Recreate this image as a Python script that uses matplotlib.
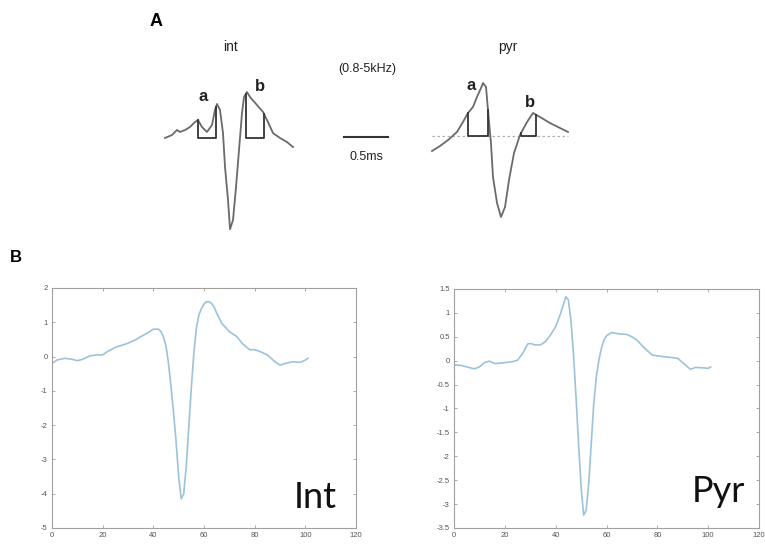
import numpy as np
import matplotlib
matplotlib.use("Agg")
import matplotlib.pyplot as plt

plt.rcParams['font.family'] = ['Liberation Sans', 'DejaVu Sans']
plt.rcParams['axes.unicode_minus'] = False

# ---------------- Panel A data (time in ms, amplitude normalised) ----------------
int_a_t = [0, 0.08, 0.136, 0.17, 0.227, 0.284, 0.341, 0.375, 0.42, 0.477, 0.534, 0.568,
           0.591, 0.625, 0.659, 0.682, 0.716, 0.739, 0.773, 0.807, 0.841, 0.875, 0.898,
           0.932, 0.966, 1.045, 1.114, 1.17, 1.227, 1.307, 1.386, 1.455]
int_a_v = [0, 0.032, 0.085, 0.064, 0.085, 0.117, 0.17, 0.191, 0.117, 0.064, 0.138, 0.298,
           0.362, 0.298, 0.053, -0.309, -0.66, -0.97, -0.872, -0.521, -0.128, 0.266, 0.436,
           0.489, 0.436, 0.351, 0.277, 0.17, 0.053, 0, -0.043, -0.096]
pyr_a_t = [0, 0.091, 0.182, 0.284, 0.352, 0.409, 0.466, 0.511, 0.557, 0.58, 0.614, 0.636,
           0.67, 0.693, 0.739, 0.784, 0.83, 0.875, 0.932, 1.0, 1.08, 1.148, 1.227, 1.341,
           1.455, 1.545]
pyr_a_v = [-0.16, -0.106, -0.043, 0.043, 0.149, 0.245, 0.309, 0.415, 0.511, 0.564, 0.521,
           0.277, -0.074, -0.436, -0.713, -0.862, -0.755, -0.468, -0.181, 0.011, 0.149,
           0.245, 0.202, 0.138, 0.085, 0.043]
int_windows = [(0.375, 0.58), (0.92, 1.125)]
pyr_windows = [(0.409, 0.636), (1.01, 1.18)]
window_labels = ['a', 'b']
scale_bar_ms = 0.5

# ---------------- Panel B data ----------------
int_x = [0, 2, 5, 8, 10, 12, 15, 18, 20, 22, 25, 28, 30, 33, 35, 38, 40, 42, 43, 44, 45,
         46, 47, 48, 49, 50, 51, 52, 53, 54, 55, 56, 57, 58, 59, 60, 61, 62, 63, 64, 65,
         67, 70, 73, 75, 78, 80, 82, 85, 88, 90, 92, 95, 98, 100, 101]
int_y = [-0.2, -0.1, -0.05, -0.08, -0.12, -0.08, 0.02, 0.05, 0.05, 0.15, 0.27, 0.34, 0.39,
         0.49, 0.58, 0.7, 0.8, 0.8, 0.73, 0.58, 0.3, -0.2, -0.9, -1.65, -2.5, -3.5, -4.15,
         -4.0, -3.2, -2.05, -0.9, 0.1, 0.83, 1.22, 1.4, 1.53, 1.6, 1.6, 1.55, 1.44, 1.27,
         0.97, 0.73, 0.58, 0.39, 0.2, 0.2, 0.15, 0.05, -0.15, -0.25, -0.2, -0.15, -0.17,
         -0.1, -0.05]
pyr_x = [0, 3, 5, 8, 10, 12, 14, 16, 20, 23, 25, 27, 29, 30, 32, 34, 36, 38, 40, 42, 43,
         44, 45, 46, 47, 48, 49, 50, 51, 52, 53, 54, 55, 56, 57, 58, 59, 60, 62, 65, 68,
         70, 72, 75, 78, 80, 85, 88, 90, 93, 95, 98, 100, 101]
pyr_y = [-0.09, -0.1, -0.13, -0.17, -0.13, -0.04, -0.01, -0.06, -0.04, -0.02, 0.01, 0.15,
         0.35, 0.36, 0.33, 0.33, 0.4, 0.54, 0.71, 1.0, 1.17, 1.34, 1.27, 0.85, 0.15, -0.75,
         -1.73, -2.64, -3.23, -3.13, -2.57, -1.73, -0.89, -0.34, 0.01, 0.26, 0.43, 0.52,
         0.59, 0.56, 0.55, 0.5, 0.43, 0.26, 0.12, 0.1, 0.07, 0.05, -0.04, -0.18, -0.14,
         -0.15, -0.16, -0.13]

# ---------------- Figure ----------------
W, H = 765, 550
fig = plt.figure(figsize=(W / 100, H / 100), dpi=100)

# Panel A overlay axes: x in ms, y in normalised amplitude
PX_PER_MS = 88.0
PX_PER_AMP = 94.0
X0_PX, BASE_PX = 165.0, 138.0
TOP_H = 250.0
axA = fig.add_axes([0, 1 - TOP_H / H, 1, TOP_H / H])
axA.set_xlim(-X0_PX / PX_PER_MS, (W - X0_PX) / PX_PER_MS)
axA.set_ylim((BASE_PX - TOP_H) / PX_PER_AMP, BASE_PX / PX_PER_AMP)
axA.axis('off')

PYR_DT = (432 - X0_PX) / PX_PER_MS
PYR_DV = 2.0 / PX_PER_AMP
trace_col = '#6a6a6a'

def draw_unit(t, v, windows, dt, dv, base_dotted):
    t = np.asarray(t) + dt
    v = np.asarray(v) + dv
    if base_dotted:
        axA.plot([t[0], t[-1]], [dv, dv], color='#b0b0b0', lw=0.9, ls=(0, (2, 2)), zorder=1)
    axA.plot(t, v, color=trace_col, lw=1.3, zorder=2, solid_joinstyle='round')
    for (w0, w1) in windows:
        x0, x1 = w0 + dt, w1 + dt
        y0v = np.interp(x0, t, v)
        y1v = np.interp(x1, t, v)
        axA.plot([x0, x0, x1, x1], [y0v, dv, dv, y1v], color='#333333', lw=1.3, zorder=3)

draw_unit(int_a_t, int_a_v, int_windows, 0.0, 0.0, False)
draw_unit(pyr_a_t, pyr_a_v, pyr_windows, PYR_DT, PYR_DV, True)

# window letters
lab_kw = dict(fontsize=12, color='#222222', ha='center', va='baseline', fontweight='bold')
axA.text(int_windows[0][0] + 0.06, 0.39, window_labels[0], **lab_kw)
axA.text(int_windows[1][1] - 0.05, 0.50, window_labels[1], **lab_kw)
axA.text(pyr_windows[0][0] + PYR_DT + 0.03, 0.51, window_labels[0], **lab_kw)
axA.text(pyr_windows[1][1] + PYR_DT - 0.07, 0.33, window_labels[1], **lab_kw)

# scale bar
sb_x0 = (344 - X0_PX) / PX_PER_MS
axA.plot([sb_x0, sb_x0 + scale_bar_ms], [0.01, 0.01], color='#333333', lw=1.5)

fig.text(150 / W, 1 - 22 / H, 'A', fontsize=13, fontweight='bold', va='center', ha='left')
fig.text(231 / W, 1 - 47 / H, 'int', fontsize=10, va='center', ha='center', color='#222222')
fig.text(508 / W, 1 - 47 / H, 'pyr', fontsize=10, va='center', ha='center', color='#222222')
fig.text(367 / W, 1 - 69 / H, '(0.8-5kHz)', fontsize=9, va='center', ha='center', color='#222222')
fig.text(366 / W, 1 - 157 / H, '0.5ms', fontsize=9, va='center', ha='center', color='#222222')
fig.text(10 / W, 1 - 258 / H, 'B', fontsize=12, fontweight='bold', va='center', ha='left')

# ---------------- Panel B ----------------
line_col = '#9cc3da'

def style_ax(ax):
    for s in ax.spines.values():
        s.set_color('#a0a0a0')
        s.set_linewidth(0.8)
    ax.tick_params(direction='in', length=2.5, width=0.6, colors='#a0a0a0',
                   labelcolor='#555555', labelsize=5.5, top=True, right=True, pad=3)

axL = fig.add_axes([52 / W, 1 - 528 / H, (356 - 52) / W, (528 - 288) / H])
axL.plot(int_x, int_y, color=line_col, lw=1.2)
axL.set_xlim(0, 120)
axL.set_ylim(-5, 2)
axL.set_xticks(np.arange(0, 121, 20))
axL.set_yticks(np.arange(-5, 2.1, 1))
style_ax(axL)

axR = fig.add_axes([454 / W, 1 - 528 / H, (759 - 454) / W, (528 - 289) / H])
axR.plot(pyr_x, pyr_y, color=line_col, lw=1.2)
axR.set_xlim(0, 120)
axR.set_ylim(-3.5, 1.5)
axR.set_xticks(np.arange(0, 121, 20))
axR.set_yticks(np.arange(-3.5, 1.51, 0.5))
axR.set_yticklabels(['-3.5', '-3', '-2.5', '-2', '-1.5', '-1', '-0.5', '0', '0.5', '1', '1.5'])
style_ax(axR)

big_kw = dict(fontsize=26, color='#111111', family=['Lato', 'DejaVu Sans'], va='baseline', ha='left')
fig.text(294 / W, 1 - 508 / H, 'Int', **big_kw)
fig.text(692 / W, 1 - 502 / H, 'Pyr', **big_kw)

fig.savefig('out.png', dpi=100)
